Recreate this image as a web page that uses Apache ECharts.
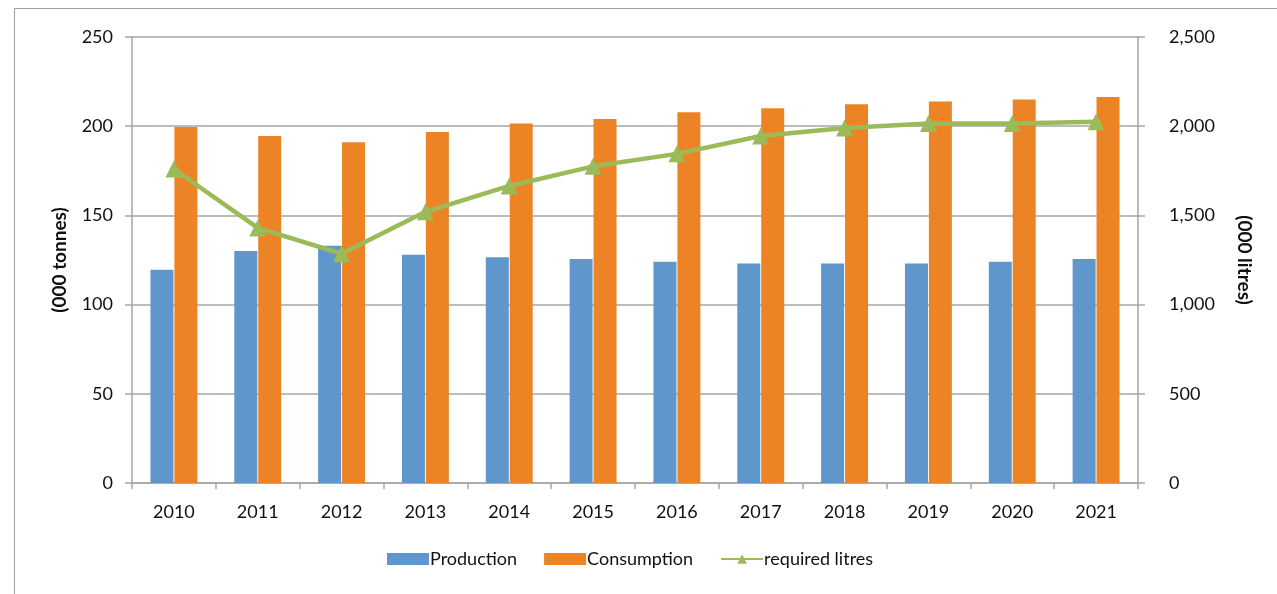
<!DOCTYPE html>
<html><head><meta charset="utf-8">
<script src="https://cdn.jsdelivr.net/npm/echarts@6/dist/echarts.min.js"></script>
<style>
html,body{margin:0;padding:0;background:#fff;overflow:hidden}
#frame{position:absolute;left:14px;top:8px;width:1400px;height:700px;border-left:1.5px solid #a0a0a0;border-top:1.5px solid #a0a0a0}
#c{position:absolute;left:0;top:0;width:1277px;height:594px}
</style></head>
<body>
<div id="frame"></div>
<div id="c"></div>
<script>
const categories = ['2010','2011','2012','2013','2014','2015','2016','2017','2018','2019','2020','2021'];
const production = [119.5,130,133,128,126.5,125.5,124,123,123,123,124,125.5];
const consumption = [199.5,194.5,191,196.8,201.5,204,207.8,210,212.3,213.8,215,216.3];
const requiredLitres = [1760,1430,1285,1520,1665,1775,1845,1945,1990,2015,2015,2025];
const leftTicks = [0,50,100,150,200,250];
const rightTicks = [0,500,1000,1500,2000,2500];

const font = 'Lato, "Open Sans", sans-serif';
const axisGrey = '#a6a6a6';
const chart = echarts.init(document.getElementById('c'));
chart.setOption({
  animation:false,
  textStyle:{fontFamily:font},
  grid:{left:132,right:139,top:37,bottom:111,containLabel:false},
  legend:{
    bottom:21,left:382,itemGap:27,itemWidth:42,itemHeight:12,
    textStyle:{fontFamily:font,fontSize:18,color:'#111',padding:[0,0,0,-4]},
    data:[{name:'Production',icon:'rect'},{name:'Consumption',icon:'rect'},{name:'required litres'}]
  },
  xAxis:{
    type:'category',data:categories,boundaryGap:true,
    axisLine:{lineStyle:{color:axisGrey,width:1.5}},
    axisTick:{show:true,length:6,lineStyle:{color:axisGrey,width:1.5}},
    axisLabel:{fontFamily:font,fontSize:18,color:'#111',margin:20}
  },
  yAxis:[{
    type:'value',min:leftTicks[0],max:leftTicks[leftTicks.length-1],interval:50,
    name:'(000 tonnes)',nameLocation:'middle',nameRotate:90,nameGap:63,
    nameTextStyle:{fontFamily:font,fontSize:19,fontWeight:'bold',color:'#111'},
    axisLine:{show:true,lineStyle:{color:axisGrey,width:1.5}},
    axisTick:{show:true,length:7,lineStyle:{color:axisGrey,width:1.5}},
    axisLabel:{fontFamily:font,fontSize:18,color:'#111',margin:19},
    splitLine:{show:true,lineStyle:{color:axisGrey,width:1.5}}
  },{
    type:'value',min:rightTicks[0],max:rightTicks[rightTicks.length-1],interval:500,position:'right',
    name:'(000 litres)',nameLocation:'middle',nameRotate:-90,nameGap:97,
    nameTextStyle:{fontFamily:font,fontSize:19,fontWeight:'bold',color:'#111'},
    axisLine:{show:true,lineStyle:{color:axisGrey,width:1.5}},
    axisTick:{show:true,length:7,lineStyle:{color:axisGrey,width:1.5}},
    axisLabel:{fontFamily:font,fontSize:18,color:'#111',margin:31,
      formatter:v=>v.toLocaleString('en-US')},
    splitLine:{show:false}
  }],
  series:[{
    name:'Production',type:'bar',data:production,barWidth:23,barGap:'4%',
    itemStyle:{color:'#5f96cb'}
  },{
    name:'Consumption',type:'bar',data:consumption,barWidth:23,
    itemStyle:{color:'#ec8426'}
  },{
    name:'required litres',type:'line',yAxisIndex:1,data:requiredLitres,
    symbol:'triangle',symbolSize:17,
    lineStyle:{color:'#9bbb59',width:4.5},
    itemStyle:{color:'#9bbb59'}
  }]
});
</script>
</body></html>
